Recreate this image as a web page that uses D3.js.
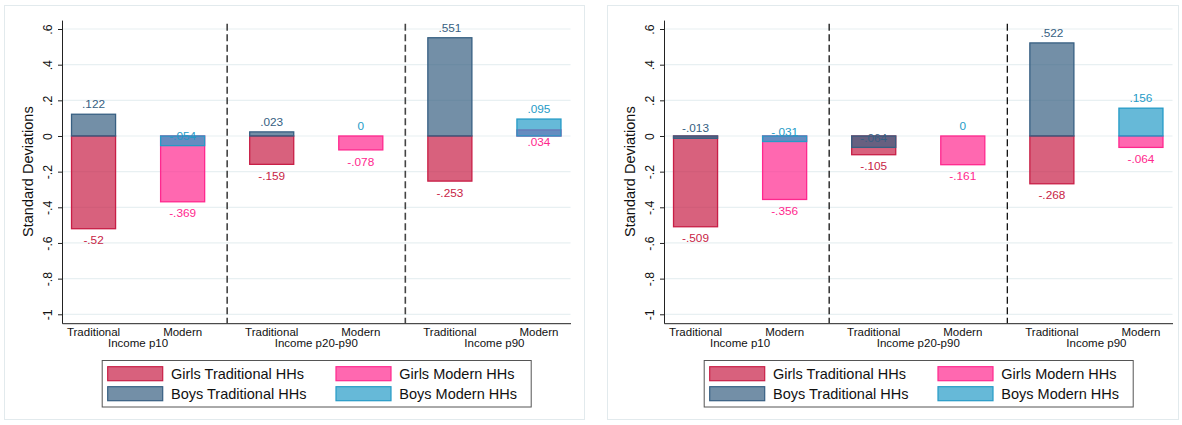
<!DOCTYPE html>
<html>
<head>
<meta charset="utf-8">
<script src="https://cdn.jsdelivr.net/npm/d3@7"></script>
<style>
  html, body { margin: 0; padding: 0; background: #fff; }
  svg { display: block; font-family: "Liberation Sans", Arial, Helvetica, sans-serif; }
</style>
</head>
<body>
<svg id="chart" width="1182" height="425"></svg>
<script>
// Income groups and household types along the x axis
const groups = ["Income p10", "Income p20-p90", "Income p90"];
const hhTypes = ["Traditional", "Modern"];

// Y axis ticks
const yTicks = [0.6, 0.4, 0.2, 0, -0.2, -0.4, -0.6, -0.8, -1];
const yTickLabels = [".6", ".4", ".2", "0", "-.2", "-.4", "-.6", "-.8", "-1"];

// Left panel values (one per income group)
const girlsTradA = [-0.52, -0.159, -0.253];
const boysTradA  = [0.122, 0.023, 0.551];
const girlsModA  = [-0.369, -0.078, 0.034];
const boysModA   = [-0.054, 0, 0.095];

// Right panel values
const girlsTradB = [-0.509, -0.105, -0.268];
const boysTradB  = [-0.013, -0.064, 0.522];
const girlsModB  = [-0.356, -0.161, -0.064];
const boysModB   = [-0.031, 0, 0.156];

// Series styling: base colour used for outline and labels, fill is translucent
const series = {
  girlsTrad: { name: "Girls Traditional HHs", color: "rgb(200,30,70)" },
  girlsMod:  { name: "Girls Modern HHs",      color: "rgb(255,40,142)" },
  boysTrad:  { name: "Boys Traditional HHs",  color: "rgb(55,95,130)" },
  boysMod:   { name: "Boys Modern HHs",       color: "rgb(37,155,199)" }
};
const FILL_OP = 0.7;

const svg = d3.select("#chart");
svg.append("rect").attr("width", 1182).attr("height", 425).attr("fill", "#fff");

const fmt = v => v === 0 ? "0" : String(+v.toFixed(3)).replace(/^(-?)0\./, "$1.");

function drawPanel(opts) {
  const { left, frame, dash, data } = opts;
  const plotW = 508.5;
  const g = svg.append("g");

  // panel frame
  g.append("rect")
    .attr("x", frame[0] + 0.5).attr("y", 5.5)
    .attr("width", frame[1] - frame[0]).attr("height", 414)
    .attr("fill", "none").attr("stroke", "#e2eaed").attr("stroke-width", 1);

  const y = d3.scaleLinear().domain([-1.05, 0.65]).range([323.2, 20.1]);
  const keys = [];
  groups.forEach((gr, gi) => hhTypes.forEach(t => keys.push(gi + "|" + t)));
  const x = d3.scaleBand().domain(keys).range([left, left + plotW])
    .paddingInner(0.5056).paddingOuter(0.107);

  // gridlines
  g.append("g").selectAll("line").data(yTicks).join("line")
    .attr("x1", left).attr("x2", left + plotW)
    .attr("y1", d => y(d)).attr("y2", d => y(d))
    .attr("stroke", "#e8f0f2").attr("stroke-width", 1.2);

  // group separators
  for (let k = 1; k < groups.length; k++) {
    const a = x(keys[2 * k - 1]) + x.bandwidth() / 2;
    const b = x(keys[2 * k]) + x.bandwidth() / 2;
    const xm = (a + b) / 2;
    g.append("line")
      .attr("x1", xm).attr("x2", xm)
      .attr("y1", y(0.63)).attr("y2", y(-1.05))
      .attr("stroke", dash.color).attr("stroke-width", dash.width)
      .attr("stroke-dasharray", "7,3.5");
  }

  // bars: girls first, boys drawn over them
  const bars = [];
  data.girlsTrad.forEach((v, i) => bars.push({ s: "girlsTrad", key: i + "|Traditional", v }));
  data.girlsMod.forEach((v, i) => bars.push({ s: "girlsMod", key: i + "|Modern", v }));
  data.boysTrad.forEach((v, i) => bars.push({ s: "boysTrad", key: i + "|Traditional", v }));
  data.boysMod.forEach((v, i) => bars.push({ s: "boysMod", key: i + "|Modern", v }));

  g.append("g").selectAll("rect").data(bars).join("rect")
    .attr("x", d => x(d.key))
    .attr("width", x.bandwidth())
    .attr("y", d => Math.min(y(d.v), y(0)))
    .attr("height", d => Math.abs(y(d.v) - y(0)))
    .attr("fill", d => series[d.s].color)
    .attr("fill-opacity", FILL_OP)
    .attr("stroke", d => series[d.s].color)
    .attr("stroke-width", 1.3);

  // value labels: boys above the bar end, girls below
  g.append("g").selectAll("text").data(bars).join("text")
    .attr("x", d => x(d.key) + x.bandwidth() / 2)
    .attr("y", d => d.s.startsWith("boys") ? y(d.v) - 10 : y(d.v) + 11.5)
    .attr("dy", "0.35em")
    .attr("text-anchor", "middle")
    .attr("font-size", "11.8px")
    .attr("fill", d => series[d.s].color)
    .text(d => fmt(d.v));

  // y axis
  const yAxis = d3.axisLeft(y).tickValues(yTicks)
    .tickFormat((d, i) => yTickLabels[i]).tickSize(4).tickSizeOuter(0);
  const ya = g.append("g").attr("transform", `translate(${left},0)`).call(yAxis);
  ya.select(".domain").attr("stroke", "#222");
  ya.selectAll(".tick line").attr("stroke", "#222");
  ya.selectAll(".tick text")
    .attr("x", null).attr("dy", "0.35em")
    .attr("transform", "translate(-14,0) rotate(-90)")
    .attr("text-anchor", "middle")
    .attr("font-size", "12.3px").attr("fill", "#111")
    .attr("font-family", null);

  // x axis
  const xAxis = d3.axisBottom(x).tickSize(0).tickFormat(d => d.split("|")[1]);
  const xa = g.append("g").attr("transform", `translate(0,${y(-1.05)})`).call(xAxis);
  xa.select(".domain").attr("stroke", "#222");
  xa.selectAll(".tick text")
    .attr("y", 8.7).attr("dy", "0.35em")
    .attr("font-size", "11.5px").attr("fill", "#111")
    .attr("font-family", null);

  // group labels
  g.append("g").selectAll("text").data(groups).join("text")
    .attr("x", (d, i) => (x(i + "|Traditional") + x(i + "|Modern") + x.bandwidth()) / 2)
    .attr("y", 343).attr("dy", "0.35em")
    .attr("text-anchor", "middle")
    .attr("font-size", "11.5px").attr("fill", "#111")
    .text(d => d);

  // y title
  g.append("text")
    .attr("transform", `translate(${left - 34},${(y(0.65) + y(-1.05)) / 2}) rotate(-90)`)
    .attr("dy", "0.35em")
    .attr("text-anchor", "middle")
    .attr("font-size", "14.5px").attr("fill", "#111")
    .text("Standard Deviations");

  // legend
  const lx = left + 39.7, ly = 360;
  g.append("rect")
    .attr("x", lx + 0.5).attr("y", ly + 0.5).attr("width", 429).attr("height", 46.5)
    .attr("fill", "#fff").attr("stroke", "#555").attr("stroke-width", 1);
  const legendItems = [
    { s: "girlsTrad", col: 0, row: 0 },
    { s: "girlsMod",  col: 1, row: 0 },
    { s: "boysTrad",  col: 0, row: 1 },
    { s: "boysMod",   col: 1, row: 1 }
  ];
  const li = g.append("g").selectAll("g").data(legendItems).join("g")
    .attr("transform", d => `translate(${lx + 6 + d.col * 228.3},${ly + 6.7 + d.row * 20})`);
  li.append("rect")
    .attr("width", 55).attr("height", 14)
    .attr("fill", d => series[d.s].color).attr("fill-opacity", FILL_OP)
    .attr("stroke", d => series[d.s].color).attr("stroke-width", 1.2);
  li.append("text")
    .attr("x", 63.3).attr("y", 7.3).attr("dy", "0.35em")
    .attr("font-size", "14.5px").attr("fill", "#111")
    .text(d => series[d.s].name);
}

drawPanel({
  left: 62, frame: [4, 584],
  dash: { color: "#444", width: 1.6 },
  data: { girlsTrad: girlsTradA, boysTrad: boysTradA, girlsMod: girlsModA, boysMod: boysModA }
});
drawPanel({
  left: 664, frame: [607, 1178],
  dash: { color: "#111", width: 1.3 },
  data: { girlsTrad: girlsTradB, boysTrad: boysTradB, girlsMod: girlsModB, boysMod: boysModB }
});
</script>
</body>
</html>
